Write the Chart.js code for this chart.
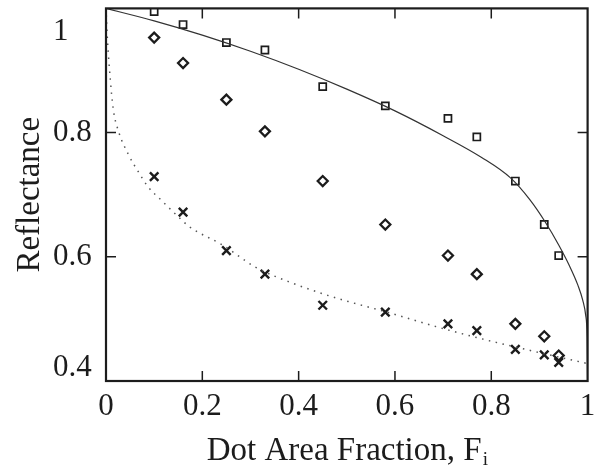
<!DOCTYPE html>
<html>
<head>
<meta charset="utf-8">
<script src="https://cdn.jsdelivr.net/npm/chart.js@4/dist/chart.umd.min.js"></script>
<style>
  html, body { margin: 0; padding: 0; background: #fff; }
  #wrap { width: 596px; height: 466px; }
</style>
</head>
<body>
<div id="wrap"><canvas id="lienzo"></canvas></div>
<script>
// dot area fraction of the measured patches
const fraccion = [0.10, 0.16, 0.25, 0.33, 0.45, 0.58, 0.71, 0.77, 0.85, 0.91, 0.94]
const cuadrados = [0.995, 0.974, 0.945, 0.933, 0.874, 0.843, 0.823, 0.793, 0.722, 0.652, 0.602]
const rombos = [0.953, 0.912, 0.853, 0.802, 0.722, 0.652, 0.602, 0.572, 0.492, 0.472, 0.441]
const cruces = [0.729, 0.672, 0.610, 0.572, 0.522, 0.511, 0.492, 0.481, 0.451, 0.442, 0.430]

// solid model curve
const solidaX = [0, 0.1, 0.2, 0.3, 0.4, 0.5, 0.6, 0.7, 0.78, 0.84, 0.88, 0.912, 0.94, 0.962, 0.98, 0.99, 0.996, 0.999, 1.0]
const solidaY = [1.0, 0.980, 0.957, 0.931, 0.902, 0.870, 0.835, 0.795, 0.760, 0.727, 0.692, 0.656, 0.619, 0.586, 0.554, 0.530, 0.506, 0.470, 0.400]

// dotted model curve
const punteadaX = [0, 0.003, 0.009, 0.015, 0.026, 0.047, 0.067, 0.088, 0.115, 0.148, 0.174, 0.242, 0.311, 0.379, 0.448, 0.503, 0.583, 0.688, 0.790, 0.893, 1.0]
const punteadaY = [1.0, 0.95, 0.885, 0.838, 0.802, 0.764, 0.737, 0.712, 0.691, 0.666, 0.648, 0.619, 0.583, 0.560, 0.541, 0.528, 0.511, 0.487, 0.466, 0.447, 0.428]

const ticksX = [0, 0.2, 0.4, 0.6, 0.8, 1]
const ticksY = [0.4, 0.6, 0.8, 1]
const etiquetasX = ['0', '0.2', '0.4', '0.6', '0.8', '1']
const etiquetasY = ['0.4', '0.6', '0.8', '1']

const tinta = '#1c1c1c'
const fuente = "'Liberation Serif', 'DejaVu Serif', serif"

const pares = (xs, ys) => xs.map((x, i) => ({x: x, y: ys[i]}))

const marco = {
    id: 'marco',
    afterDraw(chart) {
        const ctx = chart.ctx
        const a = chart.chartArea
        const sx = chart.scales.x
        const sy = chart.scales.y
        ctx.save()
        ctx.strokeStyle = tinta
        ctx.lineWidth = 2.2
        ctx.strokeRect(a.left, a.top, a.right - a.left, a.bottom - a.top)

        // inward ticks on all four sides
        ctx.lineWidth = 1.5
        ctx.beginPath()
        ticksX.slice(1, -1).forEach(v => {
            const px = sx.getPixelForValue(v)
            ctx.moveTo(px, a.bottom); ctx.lineTo(px, a.bottom - 10)
            ctx.moveTo(px, a.top); ctx.lineTo(px, a.top + 10)
        })
        ticksY.slice(1, -1).forEach(v => {
            const py = sy.getPixelForValue(v)
            ctx.moveTo(a.left, py); ctx.lineTo(a.left + 10, py)
            ctx.moveTo(a.right, py); ctx.lineTo(a.right - 10, py)
        })
        ctx.stroke()

        ctx.fillStyle = tinta
        ctx.font = '31px ' + fuente
        ctx.textAlign = 'center'
        ctx.textBaseline = 'middle'
        ticksX.forEach((v, i) => {
            ctx.fillText(etiquetasX[i], sx.getPixelForValue(v), a.bottom + 26)
        })
        ctx.textAlign = 'left'
        ticksY.forEach((v, i) => {
            let py = sy.getPixelForValue(v)
            if (v == 1) py += 23
            if (v == 0.4) py -= 13
            ctx.fillText(etiquetasY[i], a.left - 53, py)
        })

        // axis titles
        ctx.font = '33px ' + fuente
        ctx.textBaseline = 'alphabetic'
        const titulo = 'Dot Area Fraction, F'
        const w = ctx.measureText(titulo).width
        ctx.font = '19px ' + fuente
        const ws = ctx.measureText('i').width
        const cx = (a.left + a.right) / 2
        const x0 = cx - (w + ws) / 2
        ctx.font = '33px ' + fuente
        ctx.fillText(titulo, x0, 460)
        ctx.font = '19px ' + fuente
        ctx.fillText('i', x0 + w + 1, 465)

        ctx.font = '33px ' + fuente
        ctx.translate(39, (a.top + a.bottom) / 2)
        ctx.rotate(-Math.PI / 2)
        ctx.textAlign = 'center'
        ctx.fillText('Reflectance', 0, 0)
        ctx.restore()
    }
}

new Chart(document.getElementById('lienzo'), {
    type: 'scatter',
    data: {
        datasets: [
            {
                data: pares(solidaX, solidaY),
                showLine: true,
                borderColor: '#333',
                borderWidth: 1.2,
                pointRadius: 0,
                cubicInterpolationMode: 'monotone'
            },
            {
                data: pares(punteadaX, punteadaY),
                showLine: true,
                borderColor: '#555',
                borderWidth: 1.5,
                borderDash: [1.5, 5.5],
                pointRadius: 0,
                cubicInterpolationMode: 'monotone'
            },
            {
                data: pares(fraccion, cuadrados),
                pointStyle: 'rect',
                pointRadius: 5,
                borderWidth: 1.7,
                borderColor: tinta,
                backgroundColor: 'rgba(0,0,0,0)'
            },
            {
                data: pares(fraccion, rombos),
                pointStyle: 'rectRot',
                pointRadius: 5,
                borderWidth: 2.3,
                borderColor: tinta,
                backgroundColor: 'rgba(0,0,0,0)'
            },
            {
                data: pares(fraccion, cruces),
                pointStyle: 'crossRot',
                pointRadius: 6,
                borderWidth: 2.4,
                borderColor: tinta,
                backgroundColor: 'rgba(0,0,0,0)'
            }
        ]
    },
    options: {
        responsive: true,
        maintainAspectRatio: false,
        animation: false,
        layout: {padding: {top: 8, right: 4, left: 0, bottom: 0}},
        plugins: {
            legend: {display: false},
            tooltip: {enabled: false}
        },
        scales: {
            x: {
                type: 'linear', min: 0, max: 1,
                ticks: {display: false},
                grid: {display: false},
                border: {display: false},
                afterFit: s => { s.height = 85 }
            },
            y: {
                type: 'linear', min: 0.4, max: 1,
                ticks: {display: false},
                grid: {display: false},
                border: {display: false},
                afterFit: s => { s.width = 106 }
            }
        }
    },
    plugins: [marco]
})
</script>
</body>
</html>
